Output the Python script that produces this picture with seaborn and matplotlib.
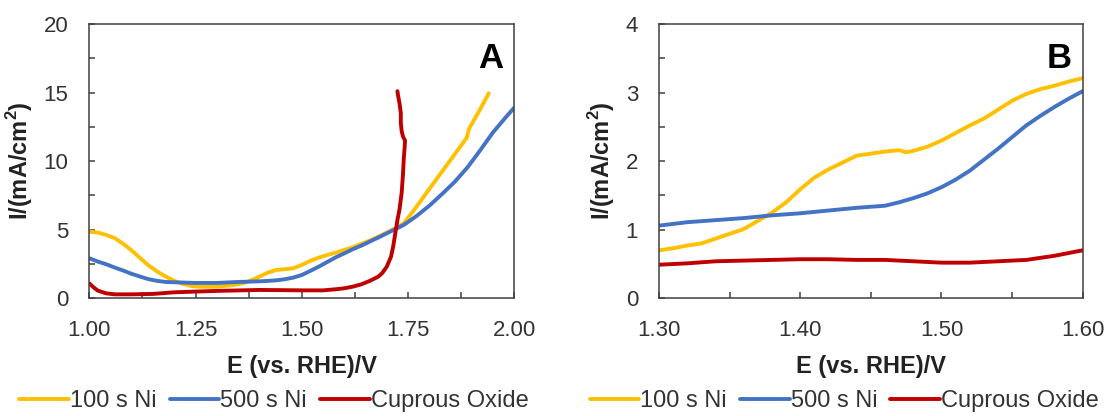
import numpy as np
import pandas as pd
import matplotlib
matplotlib.use("Agg")
import matplotlib.pyplot as plt
import seaborn as sns
from matplotlib.ticker import MultipleLocator, FormatStrFormatter

sns.set_theme(style="white")
plt.rcParams['font.family'] = ['Liberation Sans', 'DejaVu Sans']

# ---------------- Data ----------------
series_names = ["100 s Ni", "500 s Ni", "Cuprous Oxide"]
series_colors = ["#FFC000", "#4472C4", "#C00000"]

# Panel A
a_ni100_x = [1.00, 1.02, 1.04, 1.06, 1.08, 1.10, 1.12, 1.14, 1.16, 1.18, 1.20, 1.22, 1.24, 1.26, 1.30,
             1.34, 1.36, 1.38, 1.40, 1.42, 1.44, 1.46, 1.48, 1.50, 1.52, 1.54, 1.56, 1.58, 1.60, 1.62,
             1.64, 1.66, 1.68, 1.70, 1.72, 1.74, 1.77, 1.81, 1.85, 1.888, 1.893, 1.896, 1.92, 1.94]
a_ni100_y = [4.87, 4.79, 4.62, 4.38, 3.97, 3.48, 2.92, 2.38, 1.95, 1.58, 1.27, 1.05, 0.90, 0.85, 0.85,
             0.97, 1.09, 1.29, 1.58, 1.87, 2.07, 2.12, 2.19, 2.43, 2.73, 2.97, 3.16, 3.33, 3.53, 3.72,
             3.97, 4.21, 4.50, 4.79, 5.11, 5.47, 6.68, 8.39, 10.09, 11.70, 12.30, 12.50, 13.80, 14.95]

a_ni500_x = [1.00, 1.02, 1.04, 1.06, 1.08, 1.10, 1.12, 1.14, 1.16, 1.18, 1.20, 1.25, 1.30, 1.35, 1.40,
             1.42, 1.44, 1.46, 1.48, 1.50, 1.52, 1.54, 1.56, 1.58, 1.60, 1.62, 1.64, 1.66, 1.68, 1.70,
             1.72, 1.74, 1.77, 1.80, 1.83, 1.86, 1.89, 1.92, 1.95, 1.98, 2.00]
a_ni500_y = [2.92, 2.68, 2.48, 2.24, 2.02, 1.78, 1.58, 1.39, 1.27, 1.19, 1.17, 1.12, 1.12, 1.19, 1.24,
             1.27, 1.31, 1.39, 1.51, 1.70, 2.00, 2.31, 2.65, 2.99, 3.28, 3.58, 3.84, 4.14, 4.43, 4.74,
             5.04, 5.35, 6.00, 6.75, 7.60, 8.50, 9.55, 10.80, 12.10, 13.20, 13.90]

a_cu_x = [1.00, 1.01, 1.02, 1.04, 1.06, 1.10, 1.15, 1.20, 1.25, 1.30, 1.40, 1.50, 1.55, 1.58, 1.60,
          1.62, 1.64, 1.66, 1.68, 1.69, 1.70, 1.71, 1.715, 1.72, 1.725, 1.73, 1.735, 1.738, 1.740,
          1.742, 1.743, 1.738, 1.735, 1.733, 1.733, 1.730, 1.727, 1.725]
a_cu_y = [1.09, 0.80, 0.56, 0.36, 0.29, 0.29, 0.32, 0.44, 0.49, 0.54, 0.61, 0.58, 0.58, 0.66, 0.73,
          0.85, 1.02, 1.27, 1.58, 1.87, 2.31, 3.04, 3.77, 4.74, 5.70, 6.50, 7.70, 9.00, 10.20,
          11.00, 11.50, 11.80, 12.20, 12.80, 13.50, 14.20, 14.70, 15.10]

# Panel B
b_x = [1.30, 1.31, 1.32, 1.33, 1.34, 1.35, 1.36, 1.37, 1.38, 1.39, 1.40, 1.41, 1.42, 1.43, 1.44, 1.45,
       1.46, 1.47, 1.475, 1.48, 1.49, 1.50, 1.51, 1.52, 1.53, 1.54, 1.55, 1.56, 1.57, 1.58, 1.59, 1.60]
b_ni100_y = [0.70, 0.73, 0.77, 0.80, 0.87, 0.94, 1.01, 1.13, 1.25, 1.40, 1.59, 1.76, 1.88, 1.98, 2.08, 2.11,
             2.14, 2.16, 2.13, 2.15, 2.21, 2.30, 2.41, 2.52, 2.62, 2.75, 2.88, 2.98, 3.05, 3.10, 3.16, 3.21]

b2_x = [1.30, 1.32, 1.34, 1.36, 1.38, 1.40, 1.42, 1.44, 1.46, 1.47, 1.48, 1.49, 1.50, 1.51, 1.52, 1.53,
        1.54, 1.55, 1.56, 1.57, 1.58, 1.59, 1.60]
b_ni500_y = [1.06, 1.11, 1.14, 1.17, 1.21, 1.24, 1.28, 1.32, 1.35, 1.40, 1.46, 1.53, 1.62, 1.73, 1.86, 2.02,
             2.18, 2.35, 2.52, 2.66, 2.79, 2.91, 3.02]
b_cu_x = [1.30, 1.32, 1.34, 1.36, 1.38, 1.40, 1.42, 1.44, 1.46, 1.48, 1.50, 1.52, 1.54, 1.56, 1.57, 1.58,
          1.59, 1.60]
b_cu_y = [0.49, 0.51, 0.54, 0.55, 0.56, 0.57, 0.57, 0.56, 0.56, 0.54, 0.52, 0.52, 0.54, 0.56, 0.59, 0.62,
          0.66, 0.70]

panel_letters = ["A", "B"]
xlabel = "E (vs. RHE)/V"
ylabel = "I/(mA/cm$^\\mathregular{2}$)"

# ---------------- Figure ----------------
fig = plt.figure(figsize=(11.11, 4.16), dpi=100)
axA = fig.add_axes([0.0804, 0.2829, 0.3825, 0.6594])
axB = fig.add_axes([0.5932, 0.2829, 0.3813, 0.6594])

lw = 2.8
spine_c = "#404040"

def draw(ax, data):
    for (x, y), name, c in zip(data, series_names, series_colors):
        sns.lineplot(x=x, y=y, ax=ax, color=c, linewidth=lw, sort=False,
                     estimator=None, label=name, legend=False)

draw(axA, [(a_ni100_x, a_ni100_y), (a_ni500_x, a_ni500_y), (a_cu_x, a_cu_y)])
draw(axB, [(b_x, b_ni100_y), (b2_x, b_ni500_y), (b_cu_x, b_cu_y)])

axA.set_xlim(1.0, 2.0); axA.set_ylim(0, 20)
axA.xaxis.set_major_locator(MultipleLocator(0.25))
axA.xaxis.set_minor_locator(MultipleLocator(0.125))
axA.yaxis.set_major_locator(MultipleLocator(5))
axA.yaxis.set_minor_locator(MultipleLocator(2.5))
axA.xaxis.set_major_formatter(FormatStrFormatter("%.2f"))

axB.set_xlim(1.30, 1.60); axB.set_ylim(0, 4)
axB.xaxis.set_major_locator(MultipleLocator(0.10))
axB.xaxis.set_minor_locator(MultipleLocator(0.05))
axB.yaxis.set_major_locator(MultipleLocator(1))
axB.yaxis.set_minor_locator(MultipleLocator(0.5))
axB.xaxis.set_major_formatter(FormatStrFormatter("%.2f"))

legend_centers = [0.2466, 0.760]
for ax, letter, lc in zip([axA, axB], panel_letters, legend_centers):
    for s in ax.spines.values():
        s.set_visible(True)
        s.set_color(spine_c)
        s.set_linewidth(1.1)
    ax.tick_params(axis="both", which="both", direction="in", length=4, width=1.1,
                   color=spine_c, bottom=True, left=True, top=False, right=False)
    ax.tick_params(axis="x", which="major", labelsize=16, pad=15.5, labelcolor="#333333")
    ax.tick_params(axis="y", which="major", labelsize=16, pad=15, labelcolor="#333333")
    ax.set_xlabel(xlabel, fontsize=17, fontweight="bold", color="#222222", labelpad=10)
    ax.set_ylabel(ylabel, fontsize=17, fontweight="bold", color="#222222", labelpad=6.5)
    ax.text(0.975, 0.935, letter, transform=ax.transAxes, ha="right", va="top",
            fontsize=25, fontweight="bold", color="black")
    ax.set_facecolor("white")
    handles, labels = ax.get_legend_handles_labels()
    ax.legend(handles, labels, loc="center", bbox_to_anchor=(lc, 0.036),
              bbox_transform=fig.transFigure, ncol=3, frameon=False, fontsize=17,
              handlelength=2.1, handletextpad=0.05, columnspacing=0.55,
              borderaxespad=0, labelcolor="#333333")

fig.savefig("out.png", dpi=100, facecolor="white")
